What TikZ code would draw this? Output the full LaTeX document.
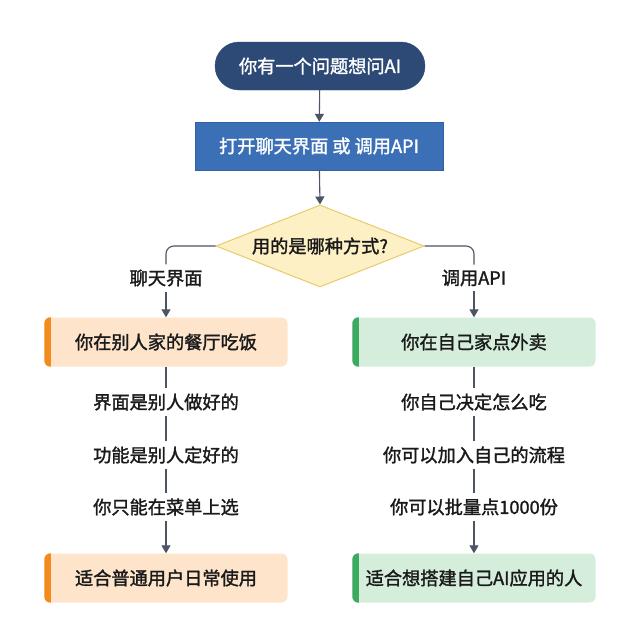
\documentclass[tikz,border=0pt]{standalone}
\usepackage{fontspec}
\setmainfont{Noto Sans CJK SC}
\newfontfamily\medfont{Noto Sans CJK SC}[FakeBold=1.6]
\usetikzlibrary{shapes.geometric,arrows.meta}
\definecolor{navy}{HTML}{2C4A75}
\definecolor{bluebox}{HTML}{3B6FB6}
\definecolor{blueedge}{HTML}{30609F}
\definecolor{dfill}{HTML}{FDF0C4}
\definecolor{dedge}{HTML}{E9CB6B}
\definecolor{ofill}{HTML}{FDE4CB}
\definecolor{obar}{HTML}{F28A1C}
\definecolor{gfill}{HTML}{D5EEDB}
\definecolor{gbar}{HTML}{3DAA62}
\definecolor{conn}{HTML}{4B5563}
\definecolor{txt}{HTML}{1A1A1A}
\tikzset{
  x=1pt,y=-1pt,
  every node/.style={font=\fontsize{18.2}{21}\selectfont\medfont, text=txt},
  startbox/.style={rounded corners=24pt, fill=navy, draw=navy, text=white, minimum width=210pt, minimum height=48pt},
  procbox/.style={fill=bluebox, draw=blueedge, text=white, minimum width=248pt, minimum height=48pt},
  decbox/.style={diamond, aspect=2.5, inner sep=0pt, fill=dfill, draw=dedge, line width=1pt, minimum width=208pt, minimum height=82pt},
  obox/.style={rounded corners=6pt, fill=ofill, minimum width=243pt, minimum height=49pt},
  gbox/.style={rounded corners=6pt, fill=gfill, minimum width=243pt, minimum height=49pt},
  item/.style={inner sep=5pt},
  lnk/.style={draw=conn, line width=1.1pt},
  arr/.style={lnk, -{Triangle[length=8pt,width=9pt]}},
}
\newcommand{\leftbar}[2]{%
  \begin{scope}
    \clip[rounded corners=6pt] (#1.south west) rectangle (#1.north east);
    \fill[#2] (#1.south west) rectangle ([xshift=6.5pt]#1.north west);
  \end{scope}}
\begin{document}
\begin{tikzpicture}
\useasboundingbox[fill=white] (0,0) rectangle (640,640);
\node[startbox] (start) at (320,66) {你有一个问题想问AI};
\node[procbox] (proc) at (319,146) {打开聊天界面 或 调用API};
\node[decbox] (dec) at (320,246) {用的是哪种方式?};
\node[item] (lchat) at (166,278) {聊天界面};
\node[item] (rapi) at (474,278) {调用API};
\node[obox] (l1) at (166,342) {你在别人家的餐厅吃饭};
\node[gbox] (r1) at (474,342) {你在自己家点外卖};
\leftbar{l1}{obar}
\leftbar{r1}{gbar}
\node[item] (l2) at (166,402) {界面是别人做好的};
\node[item] (l3) at (166,455) {功能是别人定好的};
\node[item] (l4) at (166,507) {你只能在菜单上选};
\node[item] (r2) at (474,402) {你自己决定怎么吃};
\node[item] (r3) at (474,455) {你可以加入自己的流程};
\node[item] (r4) at (474,507) {你可以批量点1000份};
\node[obox] (l5) at (166,578) {适合普通用户日常使用};
\node[gbox] (r5) at (474,578) {适合想搭建自己AI应用的人};
\leftbar{l5}{obar}
\leftbar{r5}{gbar}
\draw[arr] (start) -- (proc);
\draw[arr] (proc) -- (dec.north);
\draw[lnk, rounded corners=8pt] (dec.west) -- (lchat.north |- dec.west) -- (lchat.north);
\draw[lnk, rounded corners=8pt] (dec.east) -- (rapi.north |- dec.east) -- (rapi.north);
\draw[arr] (lchat) -- (l1);
\draw[arr] (rapi) -- (r1);
\draw[lnk] (l1) -- (l2);
\draw[lnk] (l2) -- (l3);
\draw[lnk] (l3) -- (l4);
\draw[arr] (l4) -- (l5);
\draw[lnk] (r1) -- (r2);
\draw[lnk] (r2) -- (r3);
\draw[lnk] (r3) -- (r4);
\draw[arr] (r4) -- (r5);
\end{tikzpicture}
\end{document}
